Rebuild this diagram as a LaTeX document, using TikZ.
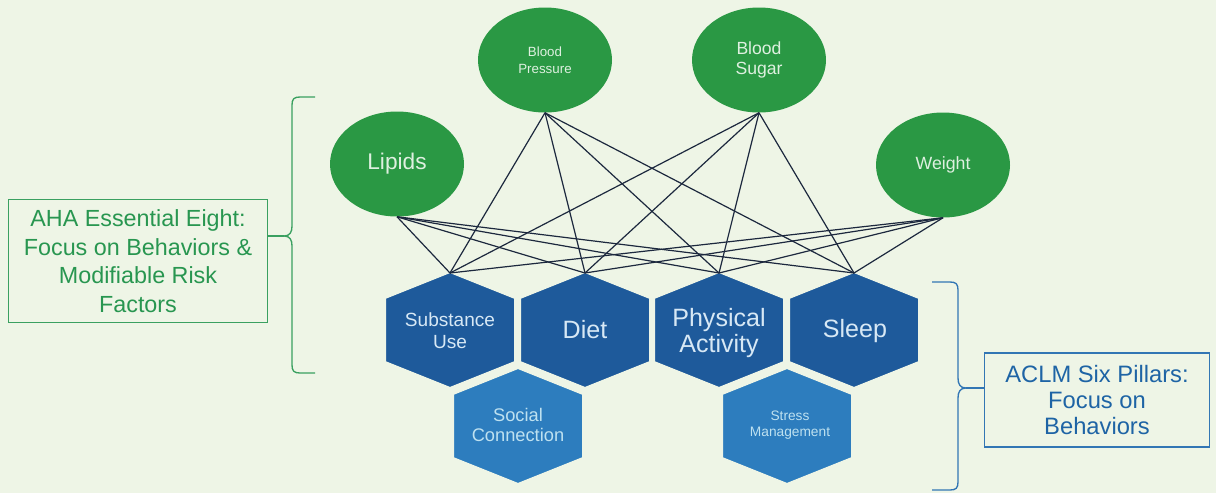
\documentclass[tikz,border=0pt]{standalone}
\usepackage{fontspec}
\setmainfont{Liberation Sans}
\usetikzlibrary{shapes.geometric}
\definecolor{bgc}{RGB}{238,245,230}
\definecolor{circg}{RGB}{42,152,68}
\definecolor{circtxt}{RGB}{222,240,224}
\definecolor{hexd}{RGB}{30,90,155}
\definecolor{hexl}{RGB}{45,125,190}
\definecolor{hexdtxt}{RGB}{215,232,245}
\definecolor{hexltxt}{RGB}{190,225,240}
\definecolor{linec}{RGB}{28,40,62}
\definecolor{ahag}{RGB}{58,160,96}
\definecolor{ahatxt}{RGB}{40,150,80}
\definecolor{aclmb}{RGB}{50,118,180}
\definecolor{aclmtxt}{RGB}{30,100,165}
\begin{document}
\begin{tikzpicture}[x=0.75pt,y=0.75pt,yscale=-1,xscale=1,
  risk/.style={ellipse,fill=circg,text=circtxt,minimum width=100.5pt,minimum height=78.75pt,inner sep=0pt,align=center},
  hexdark/.style={fill=hexd,draw=bgc,line width=1.5pt,line join=round},
  hexlight/.style={fill=hexl,draw=bgc,line width=1.5pt,line join=round},
  pillar/.style={text=hexdtxt,align=center,inner sep=0pt},
  link/.style={draw=linec,line width=0.9pt},
  infobox/.style={line width=0.8pt,align=center,inner sep=0pt}]
%set diagram size 1216 x 493
\fill[bgc] (0,0) rectangle (1216,493);

%Shape: Hexagons [row 1, then row 2]
\foreach \nm/\cx/\cy/\st in {sub/450/330/hexdark,diet/585/330/hexdark,phys/719/330/hexdark,sleep/854/330/hexdark,soc/518/426/hexlight,stress/787/426/hexlight}{
  \draw[\st] (\cx,\cy) +(0,-58) -- +(65,-32) -- +(65,32) -- +(0,58) -- +(-65,32) -- +(-65,-32) -- cycle;
  \coordinate (\nm-top) at (\cx,\cy-57);
}

% Text Node
\node[pillar,font=\fontsize{14.3}{16.5}\selectfont] (subtxt) at (450,331) {Substance\\Use};
% Text Node
\node[pillar,font=\fontsize{18.8}{19.5}\selectfont] (diettxt) at (585,330) {Diet};
% Text Node
\node[pillar,font=\fontsize{18.8}{19.5}\selectfont] (phystxt) at (719,333) {Physical\\Activity};
% Text Node
\node[pillar,font=\fontsize{18.8}{19.5}\selectfont] (sleeptxt) at (855,331) {Sleep};
% Text Node
\node[pillar,text=hexltxt,font=\fontsize{13.7}{15}\selectfont] (soctxt) at (518,425) {Social\\Connection};
% Text Node
\node[pillar,text=hexltxt,font=\fontsize{10.3}{12}\selectfont] (stresstxt) at (790,425) {Stress\\Management};

%Shape: Ellipses
\node[risk,font=\fontsize{10}{13}\selectfont] (bp) at (545,60) {Blood\\Pressure};
\node[risk,font=\fontsize{13.2}{15}\selectfont] (bs) at (759,60) {Blood\\Sugar};
\node[risk,font=\fontsize{17}{20}\selectfont] (lip) at (397,164) {Lipids};
\node[risk,font=\fontsize{13.3}{16}\selectfont] (wt) at (943,165) {Weight};

%Straight Lines
\foreach \a in {lip,bp,bs,wt}
  \foreach \b in {sub,diet,phys,sleep}
    \draw[link] (\a.south) -- (\b-top);

% Text Node
\node[infobox,draw=ahag,text=ahatxt,minimum width=194pt,minimum height=92pt,font=\fontsize{17.5}{21.4}\selectfont] (aha) at (138,261) {AHA Essential Eight:\\Focus on Behaviors \&\\Modifiable Risk\\Factors};
% Text Node
\node[infobox,draw=aclmb,text=aclmtxt,minimum width=169pt,minimum height=70.5pt,font=\fontsize{17.8}{19.5}\selectfont] (aclm) at (1097,400) {ACLM Six Pillars:\\Focus on\\Behaviors};

%Shape: Brace
\draw[ahag,line width=1pt] (315,97) -- (300,97) .. controls (294,97) and (292,99) .. (292,105) -- (292,226) .. controls (292,232) and (290,236) .. (284,236) .. controls (290,236) and (292,240) .. (292,246) -- (292,365) .. controls (292,371) and (294,373) .. (300,373) -- (315,373);
\draw[ahag,line width=1pt] (284,236) -- (aha.east |- 0,236);
%Shape: Brace
\draw[aclmb,line width=1pt] (932,282) -- (950,282) .. controls (956,282) and (958,284) .. (958,290) -- (958,378) .. controls (958,384) and (960,388) .. (966,388) .. controls (960,388) and (958,392) .. (958,398) -- (958,482) .. controls (958,488) and (956,490) .. (950,490) -- (932,490);
\draw[aclmb,line width=1pt] (966,388) -- (aclm.west |- 0,388);

\end{tikzpicture}
\end{document}
